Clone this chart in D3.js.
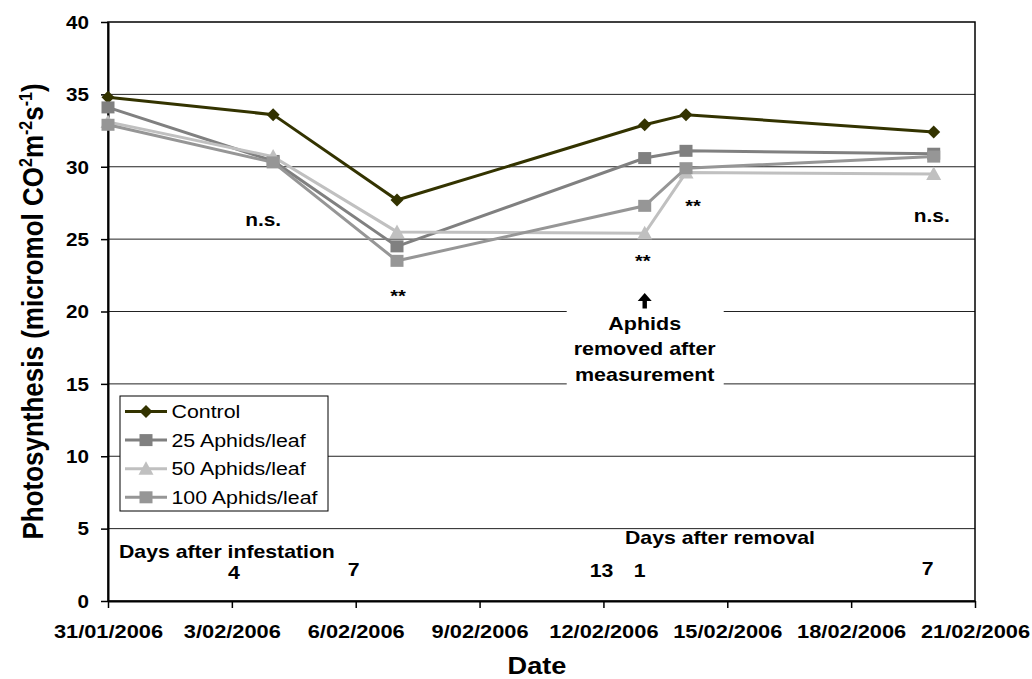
<!DOCTYPE html>
<html>
<head>
<meta charset="utf-8">
<script src="https://cdn.jsdelivr.net/npm/d3@7"></script>
<style>
  body { margin: 0; background: #fff; }
  svg { font-family: "Liberation Sans", Arial, sans-serif; }
</style>
</head>
<body>
<svg id="chart" width="1032" height="679"></svg>
<script>
const dates = ["31/01/2006", "4/02/2006", "7/02/2006", "13/02/2006", "14/02/2006", "20/02/2006"];
const control = [34.8, 33.6, 27.7, 32.9, 33.6, 32.4];
const aphids25 = [34.1, 30.4, 24.5, 30.6, 31.1, 30.9];
const aphids50 = [33.1, 30.7, 25.5, 25.4, 29.6, 29.5];
const aphids100 = [32.9, 30.3, 23.5, 27.3, 29.9, 30.7];
const xTicks = ["31/01/2006", "3/02/2006", "6/02/2006", "9/02/2006", "12/02/2006", "15/02/2006", "18/02/2006", "21/02/2006"];
const yTicks = [0, 5, 10, 15, 20, 25, 30, 35, 40];

const parse = d3.utcParse("%d/%m/%Y");
const fmt = d3.utcFormat("%-d/%m/%Y");

const series = [
  { name: "Control", values: control, color: "#333300", shape: "diamond" },
  { name: "25 Aphids/leaf", values: aphids25, color: "#808080", shape: "square" },
  { name: "50 Aphids/leaf", values: aphids50, color: "#c0c0c0", shape: "triangle" },
  { name: "100 Aphids/leaf", values: aphids100, color: "#969696", shape: "square" },
];

// the original text is a bit wider than Arial
const SX = 1.18;
const m = { left: 108, right: 975, top: 22, bottom: 601 };
const svg = d3.select("#chart");

const x = d3.scaleUtc()
  .domain([parse(xTicks[0]), parse(xTicks[xTicks.length - 1])])
  .range([m.left, m.right]);
const y = d3.scaleLinear().domain([0, 40]).range([m.bottom, m.top]);

function put(parent, px, py, text, size, weight, anchor) {
  return parent.append("text")
    .attr("transform", `translate(${px},${py}) scale(${SX},1)`)
    .attr("text-anchor", anchor || "start")
    .attr("font-size", size)
    .attr("font-weight", weight || "bold")
    .attr("fill", "#000")
    .text(text);
}

// gridlines
svg.append("g")
  .selectAll("line")
  .data(yTicks.filter((d) => d > 0 && d < 40))
  .join("line")
  .attr("x1", m.left)
  .attr("x2", m.right)
  .attr("y1", (d) => y(d))
  .attr("y2", (d) => y(d))
  .attr("stroke", "#222")
  .attr("stroke-width", 1);

// white box behind the annotation
const ax = x(parse("13/02/2006"));
svg.append("rect")
  .attr("x", ax - 78)
  .attr("y", y(21.2))
  .attr("width", 157)
  .attr("height", y(14.4) - y(21.2))
  .attr("fill", "#fff");

// frame
svg.append("rect")
  .attr("x", m.left)
  .attr("y", m.top)
  .attr("width", m.right - m.left)
  .attr("height", m.bottom - m.top)
  .attr("fill", "none")
  .attr("stroke", "#000")
  .attr("stroke-width", 1.5);

// x axis
const xAxis = svg.append("g")
  .attr("transform", `translate(0,${m.bottom})`)
  .call(d3.axisBottom(x).tickValues(xTicks.map(parse)).tickFormat(fmt).tickSize(7).tickSizeOuter(0))
  .call((g) => g.select(".domain").attr("stroke-width", 2));
xAxis.selectAll(".tick line").attr("stroke-width", 1.5);
xAxis.selectAll(".tick text")
  .attr("y", null)
  .attr("dy", null)
  .attr("transform", `translate(0,36.5) scale(${SX},1)`)
  .attr("font-size", 18.5)
  .attr("font-weight", "bold")
  .attr("fill", "#000");

// y axis
const yAxis = svg.append("g")
  .attr("transform", `translate(${m.left},0)`)
  .call(d3.axisLeft(y).tickValues(yTicks).tickSize(7).tickSizeOuter(0))
  .call((g) => g.select(".domain").attr("stroke-width", 2));
yAxis.selectAll(".tick line").attr("stroke-width", 1.5);
yAxis.selectAll(".tick text")
  .attr("x", null)
  .attr("dy", null)
  .attr("transform", `translate(-19,6.3) scale(${SX},1)`)
  .attr("font-size", 17.5)
  .attr("font-weight", "bold")
  .attr("fill", "#000");

// axis titles
put(svg, 537, 674, "Date", 23, "bold", "middle");

const yTitle = svg.append("text")
  .attr("transform", `translate(43,${(m.top + m.bottom) / 2}) scale(1.12,1) rotate(-90)`)
  .attr("text-anchor", "middle")
  .attr("font-size", 26)
  .attr("font-weight", "bold");
yTitle.append("tspan").text("Photosynthesis (micromol CO");
yTitle.append("tspan").attr("font-size", 16).attr("dy", -10).text("2");
yTitle.append("tspan").attr("dy", 10).text("m");
yTitle.append("tspan").attr("font-size", 16).attr("dy", -10).text("-2");
yTitle.append("tspan").attr("dy", 10).text("s");
yTitle.append("tspan").attr("font-size", 16).attr("dy", -10).text("-1");
yTitle.append("tspan").attr("dy", 10).text(")");

// markers
function marker(g, shape, color) {
  if (shape === "diamond") {
    g.append("path").attr("d", "M0,-6.5L6.5,0L0,6.5L-6.5,0Z").attr("fill", color);
  } else if (shape === "square") {
    g.append("rect").attr("x", -6.5).attr("y", -6).attr("width", 13).attr("height", 12).attr("fill", color);
  } else {
    g.append("path").attr("d", "M0,-7.5L7.5,6L-7.5,6Z").attr("fill", color);
  }
}

const line = d3.line().x((d) => x(d.date)).y((d) => y(d.value));

series.forEach((s) => {
  const pts = dates.map((d, i) => ({ date: parse(d), value: s.values[i] }));
  const g = svg.append("g");
  g.append("path")
    .datum(pts)
    .attr("d", line)
    .attr("fill", "none")
    .attr("stroke", s.color)
    .attr("stroke-width", 3);
  pts.forEach((p) => {
    marker(g.append("g").attr("transform", `translate(${x(p.date)},${y(p.value)})`), s.shape, s.color);
  });
});

// significance labels
const notes = [
  { date: "4/02/2006", dx: -10, value: 25.9, text: "n.s.", size: 17.7 },
  { date: "20/02/2006", dx: -2, value: 26.2, text: "n.s.", size: 17.7 },
  { date: "7/02/2006", dx: 1, value: 20.65, text: "**", size: 17 },
  { date: "13/02/2006", dx: -2, value: 23.1, text: "**", size: 17 },
  { date: "14/02/2006", dx: 7, value: 26.9, text: "**", size: 17 },
];
notes.forEach((d) => {
  put(svg, x(parse(d.date)) + d.dx, y(d.value), d.text, d.size, "bold", "middle");
});

// annotation for removal
svg.append("path")
  .attr("d", `M${ax},293L${ax - 7},301L${ax - 2.2},301L${ax - 2.2},308.5L${ax + 2.2},308.5L${ax + 2.2},301L${ax + 7},301Z`)
  .attr("fill", "#000");
["Aphids", "removed after", "measurement"].forEach((t, i) => {
  put(svg, ax, 329.5 + i * 25.5, t, 18.2, "bold", "middle");
});

// day labels
const dayLabels = [
  { date: "3/02/2006", dx: 2, value: 1.55, text: "4" },
  { date: "6/02/2006", dx: -2, value: 1.7, text: "7" },
  { date: "12/02/2006", dx: -2, value: 1.65, text: "13" },
  { date: "13/02/2006", dx: -5, value: 1.65, text: "1" },
  { date: "20/02/2006", dx: -6, value: 1.8, text: "7" },
];
dayLabels.forEach((d) => {
  put(svg, x(parse(d.date)) + d.dx, y(d.value), d.text, 18, "bold", "middle");
});
put(svg, 119, 558, "Days after infestation", 18, "bold");
put(svg, 625, 544, "Days after removal", 18, "bold");

// legend
const legend = svg.append("g").attr("transform", "translate(120,396)");
legend.append("rect")
  .attr("width", 208)
  .attr("height", 115)
  .attr("fill", "#fff")
  .attr("stroke", "#000")
  .attr("stroke-width", 1);
series.forEach((s, i) => {
  const g = legend.append("g").attr("transform", `translate(0,${15.5 + i * 28.6})`);
  g.append("line").attr("x1", 5).attr("x2", 47).attr("stroke", s.color).attr("stroke-width", 3);
  marker(g.append("g").attr("transform", "translate(26,0)"), s.shape, s.color);
  put(g, 51.5, 6.6, s.name, 18.1, "normal");
});
</script>
</body>
</html>
